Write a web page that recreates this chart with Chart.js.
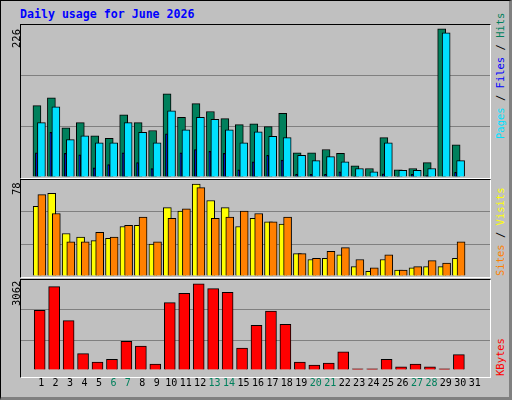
<!DOCTYPE html>
<html><head><meta charset="utf-8">
<script src="https://cdn.jsdelivr.net/npm/chart.js@4"></script>
<style>
html,body{margin:0;padding:0;}
body{width:512px;height:400px;position:relative;background:#c0c0c0;font-family:"DejaVu Sans Mono",monospace;overflow:hidden;}
#frame{position:absolute;left:0;top:0;width:508px;height:396px;border:1px solid #000;border-right:3px solid #808080;border-bottom:3px solid #808080;box-sizing:content-box;}
#title{position:absolute;left:20px;top:7px;color:#0000ff;font-weight:bold;font-size:11.6px;}
.panel{position:absolute;left:20px;width:471px;border-top:1px solid #000;border-left:1px solid #000;border-right:1px solid #fff;border-bottom:1px solid #fff;box-sizing:border-box;}
.cw{position:absolute;left:21px;width:469px;}
.rot{position:absolute;transform-origin:0 0;transform:rotate(-90deg);white-space:nowrap;font-size:10.5px;}
</style></head><body>
<div id="frame"></div>
<div id="title">Daily usage for June 2026</div>
<div class="panel" style="top:24px;height:155px"></div>
<div class="panel" style="top:179px;height:99px"></div>
<div class="panel" style="top:279px;height:99px"></div>
<div class="cw" style="top:25px;height:152px"><canvas id="c1"></canvas></div>
<div class="cw" style="top:180px;height:96px"><canvas id="c2"></canvas></div>
<div class="cw" style="top:280px;height:116px"><canvas id="c3"></canvas></div>
<div class="rot" style="left:10px;top:48px;color:#000">226</div>
<div class="rot" style="left:10px;top:195px;color:#000">78</div>
<div class="rot" style="left:10px;top:306px;color:#000">3062</div>
<div class="rot" style="left:494px;top:139px"><span style="color:#00e0ff">Pages</span> / <span style="color:#0000ff">Files</span> / <span style="color:#00805c">Hits</span></div>
<div class="rot" style="left:494px;top:276px"><span style="color:#ff8000">Sites</span> / <span style="color:#ffff00">Visits</span></div>
<div class="rot" style="left:494px;top:376px;color:#ff0000">KBytes</div>
<script>
const days=[1,2,3,4,5,6,7,8,9,10,11,12,13,14,15,16,17,18,19,20,21,22,23,24,25,26,27,28,29,30,31];
const weekend=[6,7,13,14,20,21,27,28];
const hits=[109,121,75,83,63,59,95,83,71,127,91,112,100,89,80,81,77,97,37,37,42,36,17,13,60,11,13,22,226,49,0];
const pages=[83,107,57,63,52,52,83,68,52,101,72,91,88,72,52,69,62,60,33,25,31,23,13,8,52,10,10,13,220,25,0];
const files=[37,68,36,34,14,19,37,22,13,66,37,42,39,36,11,23,33,26,4,4,4,8,1,0,5,1,4,2,0,7,0];
const visits=[59,70,36,33,30,32,42,43,27,58,55,78,64,58,42,49,46,44,19,14,15,18,8,4,14,5,7,8,8,15,0];
const sites=[69,53,29,29,37,33,43,50,29,49,57,75,49,50,55,53,46,50,19,15,21,24,14,7,18,5,8,13,11,29,0];
const kbytes=[2124,2963,1755,581,280,380,1017,850,212,2393,2728,3062,2896,2761,783,1588,2091,1621,280,179,246,648,40,40,380,112,212,112,40,548,0];

function ds(vals,off,w,color,order){
  return {data:days.map((d,i)=>({x:d+off,y:vals[i]})),backgroundColor:color,borderColor:'#000',borderWidth:1,borderSkipped:'bottom',barThickness:w,grouped:false,order:order};
}
function opts(max,showX){
  return {responsive:true,maintainAspectRatio:false,animation:false,
    layout:{padding:0},
    plugins:{legend:{display:false},tooltip:{enabled:false}},
    scales:{
      x:{type:'linear',min:0.13,max:31.53,display:showX,
        grid:{display:false,drawTicks:false},border:{display:false},
        ticks:{stepSize:1,autoSkip:false,maxRotation:0,minRotation:0,padding:7,font:{family:'DejaVu Sans Mono',size:10},
          callback:v=>days.includes(v)?String(v):'',
          color:c=>weekend.includes(c.tick.value)?'#00805c':'#000'},
        afterBuildTicks:a=>{a.ticks=days.map(d=>({value:d}));}},
      y:{min:0,max:max,display:true,afterBuildTicks:a=>{a.ticks=[0,max/3,2*max/3,max].map(v=>({value:v}));},
        ticks:{display:false},border:{display:false},
        grid:{drawTicks:false,lineWidth:1,color:c=>(c.index==1||c.index==2)?'#808080':'rgba(0,0,0,0)'}}
    }};
}
new Chart(document.getElementById('c1'),{type:'bar',data:{datasets:[
  ds(hits,-0.29,8,'#00805c',2),ds(files,-0.33,2,'#0000ff',1),ds(pages,0.02,8,'#00e0ff',0)]},options:opts(232,false)});
new Chart(document.getElementById('c2'),{type:'bar',data:{datasets:[
  ds(visits,-0.27,8,'#ffff00',1),ds(sites,0.05,8,'#ff8000',0)]},options:opts(81.4,false)});
new Chart(document.getElementById('c3'),{type:'bar',data:{datasets:[
  ds(kbytes,-0.1,11,'#ff0000',0)]},options:opts(3200,true)});
</script>
</body></html>
